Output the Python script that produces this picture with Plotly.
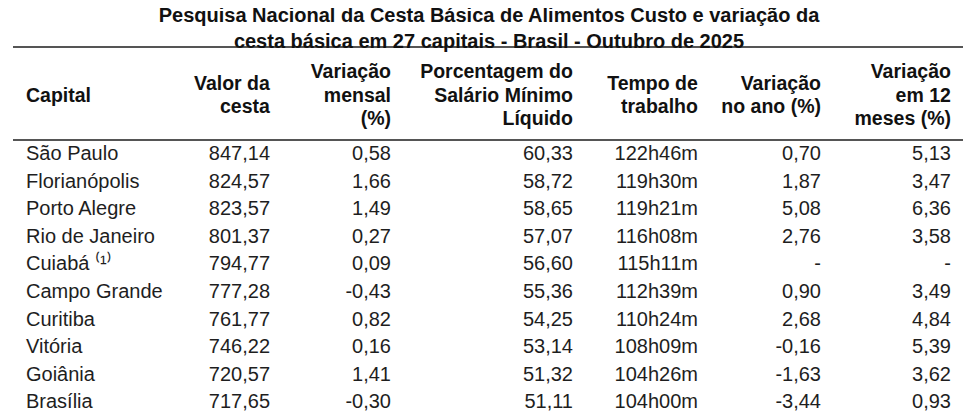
import plotly.graph_objects as go

# the page has an 8px body margin, so the figure is drawn 8px smaller and
# every position below is shifted back by OFF
OFF = 8
W, H = 980 - OFF, 417 - OFF
FONT = "Liberation Sans, Arial, sans-serif"
INK = "#1e1e1e"

# Data
capitais = ["São Paulo", "Florianópolis", "Porto Alegre", "Rio de Janeiro",
            "Cuiabá \u207d\u00b9\u207e", "Campo Grande", "Curitiba", "Vitória",
            "Goiânia", "Brasília"]
valor_cesta = [847.14, 824.57, 823.57, 801.37, 794.77, 777.28, 761.77, 746.22, 720.57, 717.65]
var_mensal = [0.58, 1.66, 1.49, 0.27, 0.09, -0.43, 0.82, 0.16, 1.41, -0.30]
pct_salario = [60.33, 58.72, 58.65, 57.07, 56.60, 55.36, 54.25, 53.14, 51.32, 51.11]
tempo_trabalho = ["122h46m", "119h30m", "119h21m", "116h08m", "115h11m",
                  "112h39m", "110h24m", "108h09m", "104h26m", "104h00m"]
var_ano = [0.70, 1.87, 5.08, 2.76, None, 0.90, 2.68, -0.16, -1.63, -3.44]
var_12m = [5.13, 3.47, 6.36, 3.58, None, 3.49, 4.84, 5.39, 3.62, 0.93]

# column headings, one list of lines per column
headers = [["Capital"],
           ["Valor da", "cesta"],
           ["Variação", "mensal", "(%)"],
           ["Porcentagem do", "Salário Mínimo", "Líquido"],
           ["Tempo de", "trabalho"],
           ["Variação", "no ano (%)"],
           ["Variação", "em 12", "meses (%)"]]

TITLE = ("Pesquisa Nacional da Cesta Básica de Alimentos Custo e variação da<br>"
         "cesta básica em 27 capitais - Brasil - Outubro de 2025")


def br(v):
    return "-" if v is None else f"{v:.2f}".replace(".", ",")


def px(v):
    return (v - OFF) / W


def py(v):
    return 1 - (v - OFF) / H


# layout constants (reference px)
col_edges = [18, 180, 278, 399, 581, 706, 829, 959]
col_w = [b - a for a, b in zip(col_edges[:-1], col_edges[1:])]
align = ["left"] + ["right"] * 6
head_top = 48
head_mid = 96.5      # vertical centre of the heading block
head_step = 23.5     # line spacing inside headings
text_drop = 21       # cell top -> visual centre of bold heading text
data_top = 137
row_h = 27.6
rule_x = (13, 963)
rules_y = [47, 140]

xdom = [px(col_edges[0]), px(col_edges[-1])]
blank = "rgba(0,0,0,0)"
head_font = dict(family=FONT, size=19.5, color="#111")

fig = go.Figure()
fig.add_trace(go.Table(
    domain=dict(x=xdom, y=[0, py(head_top)]),
    columnwidth=col_w,
    header=dict(values=[""] * len(headers), height=data_top - head_top,
                fill_color="white", line_color=blank),
    cells=dict(values=[capitais,
                       [br(v) for v in valor_cesta],
                       [br(v) for v in var_mensal],
                       [br(v) for v in pct_salario],
                       tempo_trabalho,
                       [br(v) for v in var_ano],
                       [br(v) for v in var_12m]],
               align=align, height=row_h, fill_color="white",
               line_color=blank, font=dict(family=FONT, size=20, color=INK)),
))

# one header-only table per heading line level so each line is right aligned
levels = {}
for c, lines in enumerate(headers):
    n = len(lines)
    for i, line in enumerate(lines):
        y = round(head_mid + (i - (n - 1) / 2) * head_step, 2)
        levels.setdefault(y, [""] * len(headers))[c] = f"<b>{line}</b>"

for y, vals in sorted(levels.items()):
    fig.add_trace(go.Table(
        domain=dict(x=xdom, y=[0, py(y - text_drop)]),
        columnwidth=col_w,
        header=dict(values=vals, align=align, height=24, fill_color=blank,
                    line_color=blank, font=head_font),
        cells=dict(values=[[] for _ in headers], fill_color=blank, line_color=blank),
    ))

for y in rules_y:
    fig.add_shape(type="line", xref="paper", yref="paper",
                  x0=px(rule_x[0]), x1=px(rule_x[1]), y0=py(y), y1=py(y),
                  line=dict(color="#555555", width=2), layer="above")

fig.update_layout(
    width=W, height=H,
    margin=dict(l=0, r=0, t=0, b=0),
    paper_bgcolor="white",
    title=dict(text=f"<b>{TITLE}</b>", x=px(489), xanchor="center",
               y=py(22), yanchor="middle",
               font=dict(family=FONT, size=20, color="#111")),
)

fig.write_html("out.html")
